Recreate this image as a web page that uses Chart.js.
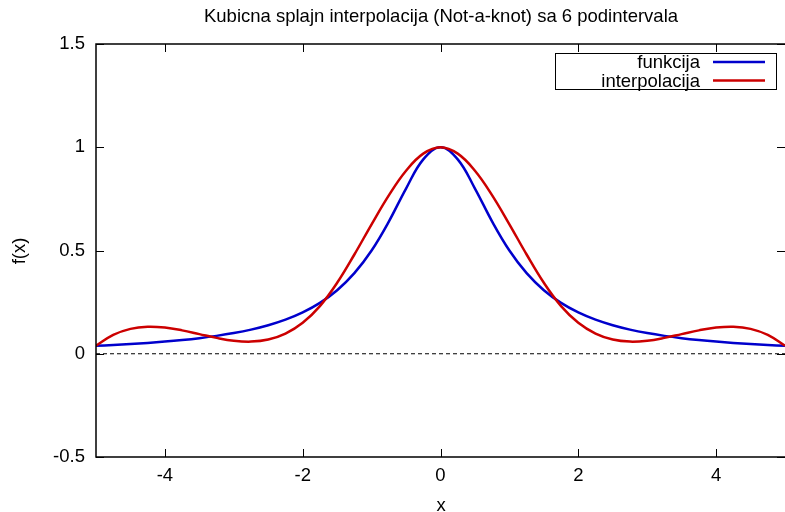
<!DOCTYPE html>
<html>
<head>
<meta charset="utf-8">
<script src="https://cdn.jsdelivr.net/npm/chart.js@4"></script>
<style>
html,body{margin:0;padding:0;background:#fff;}
canvas{display:block;}
</style>
</head>
<body>
<canvas id="c" width="785" height="512"></canvas>
<script>
// ---- data ----
const xValues = [-5,-4.75,-4.5,-4.25,-4,-3.75,-3.5,-3.25,-3,-2.75,-2.5,-2.25,-2,-1.75,-1.5,-1.25,-1,-0.75,-0.5,-0.25,0,
  0.25,0.5,0.75,1,1.25,1.5,1.75,2,2.25,2.5,2.75,3,3.25,3.5,3.75,4,4.25,4.5,4.75,5];
const funkcija = [0.0385,0.0424,0.0471,0.0525,0.0588,0.0664,0.0755,0.0865,0.1,0.1168,0.1379,0.1649,0.2,0.2462,0.3077,0.3902,0.5,0.64,0.8,0.9412,1,
  0.9412,0.8,0.64,0.5,0.3902,0.3077,0.2462,0.2,0.1649,0.1379,0.1168,0.1,0.0865,0.0755,0.0664,0.0588,0.0525,0.0471,0.0424,0.0385];
const interpolacija = [0.0385,0.0914,0.1206,0.1308,0.1268,0.1133,0.0951,0.0768,0.0631,0.0589,0.0688,0.0976,0.15,0.2307,0.3435,0.4806,0.6269,0.7673,0.8864,0.9691,1,
  0.9691,0.8864,0.7673,0.6269,0.4806,0.3435,0.2307,0.15,0.0976,0.0688,0.0589,0.0631,0.0768,0.0951,0.1133,0.1268,0.1308,0.1206,0.0914,0.0385];
const zeroLineX = [-5, 5];
const zeroLineY = [0, 0];
const xTicks = [-4, -2, 0, 2, 4];
const xTickLabels = ['-4', '-2', '0', '2', '4'];
const yTicks = [-0.5, 0, 0.5, 1, 1.5];
const yTickLabels = ['-0.5', '0', '0.5', '1', '1.5'];
const seriesNames = ['funkcija', 'interpolacija'];
const titleText = 'Kubicna splajn interpolacija (Not-a-knot) sa 6 podintervala';
const xTitle = 'x';
const yTitle = 'f(x)';

const FONT = 'Liberation Sans, Arial, sans-serif';
const BLUE = '#0000cc';
const RED = '#cc0000';

const toPts = (xs, ys) => xs.map((x, i) => ({x: x, y: ys[i]}));

const decor = {
  id: 'decor',
  afterDraw(chart) {
    const ctx = chart.ctx;
    const a = chart.chartArea;
    const xs = chart.scales.x, ys = chart.scales.y;
    ctx.save();
    // frame
    ctx.strokeStyle = '#000';
    ctx.lineWidth = 1.5;
    ctx.beginPath();
    ctx.moveTo(a.right, a.top); ctx.lineTo(a.left, a.top);
    ctx.lineTo(a.left, a.bottom); ctx.lineTo(a.right, a.bottom);
    ctx.stroke();
    // ticks
    ctx.lineWidth = 1;
    ctx.beginPath();
    xTicks.forEach(v => {
      const px = Math.round(xs.getPixelForValue(v)) + 0.5;
      ctx.moveTo(px, a.bottom); ctx.lineTo(px, a.bottom - 8);
      ctx.moveTo(px, a.top); ctx.lineTo(px, a.top + 8);
    });
    yTicks.forEach(v => {
      const py = Math.round(ys.getPixelForValue(v)) + 0.5;
      ctx.moveTo(a.left, py); ctx.lineTo(a.left + 8, py);
      ctx.moveTo(a.right, py); ctx.lineTo(a.right - 8, py);
    });
    ctx.stroke();
    // title
    ctx.fillStyle = '#000';
    ctx.font = '18.5px ' + FONT;
    ctx.textAlign = 'center';
    ctx.textBaseline = 'alphabetic';
    ctx.fillText(titleText, 441, 22);
    // x title
    ctx.fillText(xTitle, 441, 511);
    // y title
    ctx.save();
    ctx.translate(20, 251);
    ctx.rotate(-Math.PI / 2);
    ctx.textBaseline = 'middle';
    ctx.fillText(yTitle, 0, 0);
    ctx.restore();
    // legend
    ctx.fillStyle = '#fff';
    ctx.fillRect(555, 53, 222, 37);
    ctx.strokeStyle = '#000';
    ctx.lineWidth = 1;
    ctx.strokeRect(555.5, 53.5, 221, 36);
    ctx.fillStyle = '#000';
    ctx.textAlign = 'right';
    ctx.textBaseline = 'middle';
    const rows = [[seriesNames[0], BLUE, 62], [seriesNames[1], RED, 80.5]];
    rows.forEach(r => {
      ctx.fillText(r[0], 700, r[2] + 1);
      ctx.strokeStyle = r[1];
      ctx.lineWidth = 2.5;
      ctx.beginPath();
      ctx.moveTo(713, r[2]); ctx.lineTo(765, r[2]);
      ctx.stroke();
    });
    ctx.restore();
  }
};

new Chart(document.getElementById('c'), {
  type: 'line',
  data: {
    datasets: [
      {label: 'zero', data: toPts(zeroLineX, zeroLineY), borderColor: '#000', borderWidth: 1, borderDash: [4, 3], pointRadius: 0, tension: 0, order: 3},
      {label: seriesNames[0], data: toPts(xValues, funkcija), borderColor: BLUE, borderWidth: 2.5, pointRadius: 0, tension: 0.4, order: 2},
      {label: seriesNames[1], data: toPts(xValues, interpolacija), borderColor: RED, borderWidth: 2.5, pointRadius: 0, tension: 0.4, order: 1}
    ]
  },
  options: {
    responsive: false,
    animation: false,
    events: [],
    layout: {padding: {top: 44, left: 0, right: 0, bottom: 0}},
    plugins: {legend: {display: false}, title: {display: false}, tooltip: {enabled: false}},
    scales: {
      x: {
        type: 'linear', min: -5, max: 5,
        afterBuildTicks: s => { s.ticks = xTicks.map(v => ({value: v})); },
        afterFit: s => { s.height = 55; },
        grid: {display: false, drawTicks: false},
        border: {display: false},
        ticks: {color: '#000', font: {family: FONT, size: 18.5}, padding: 8, maxRotation: 0, autoSkip: false,
          callback: v => xTickLabels[xTicks.indexOf(v)]}
      },
      y: {
        type: 'linear', min: -0.5, max: 1.5,
        afterBuildTicks: s => { s.ticks = yTicks.map(v => ({value: v})); },
        afterFit: s => { s.width = 96; },
        grid: {display: false, drawTicks: false},
        border: {display: false},
        ticks: {color: '#000', font: {family: FONT, size: 18.5}, padding: 11, autoSkip: false,
          callback: v => yTickLabels[yTicks.indexOf(v)]}
      }
    }
  },
  plugins: [decor]
});
</script>
</body>
</html>
